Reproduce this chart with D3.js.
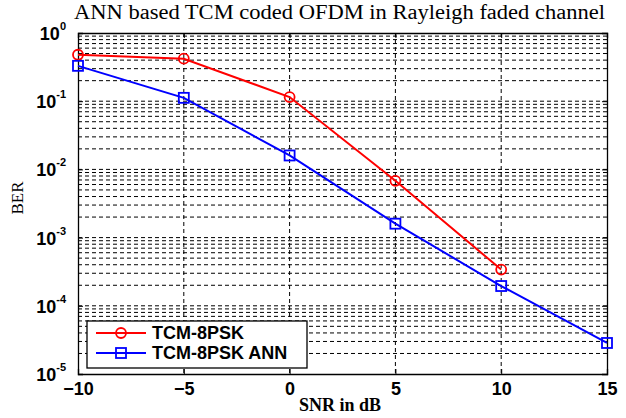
<!DOCTYPE html>
<html><head><meta charset="utf-8">
<script src="https://cdn.jsdelivr.net/npm/d3@7"></script>
<style>body{margin:0;background:#fff}svg{display:block}</style>
</head><body>
<script>
const snr = [-10, -5, 0, 5, 10, 15];
const berTCM = [0.48, 0.42, 0.115, 0.0068, 0.00034];
const berANN = [0.33, 0.112, 0.016, 0.0016, 0.000195, 0.0000285];
const xTicks = [-10, -5, 0, 5, 10, 15];
const yExps = [0, -1, -2, -3, -4, -5];
const seriesNames = ["TCM-8PSK", "TCM-8PSK ANN"];
const titleText = "ANN based TCM coded OFDM in Rayleigh faded channel";

const W = 626, H = 418;
const m = {l: 78, r: 19, t: 33, b: 44};
const svg = d3.select("body").append("svg").attr("width", W).attr("height", H);
const x = d3.scaleLinear().domain([-10, 15]).range([m.l, W - m.r]);
const y = d3.scaleLog().domain([1e-5, 1]).range([H - m.b, m.t]);

// grid
const minor = [];
for (let e = -5; e < 0; e++) for (let k = 1; k <= 9; k++) minor.push(k * Math.pow(10, e));
const g = svg.append("g");
g.selectAll(".hg").data(minor.filter(v => v > 1e-5 && v < 1)).enter().append("line")
  .attr("x1", m.l).attr("x2", W - m.r).attr("y1", d => y(d)).attr("y2", d => y(d))
  .attr("stroke", "#000").attr("stroke-width", 1).attr("stroke-dasharray", "4,3");
g.selectAll(".vg").data(xTicks.slice(1, -1)).enter().append("line")
  .attr("y1", m.t).attr("y2", H - m.b).attr("x1", d => x(d)).attr("x2", d => x(d))
  .attr("stroke", "#000").attr("stroke-width", 1).attr("stroke-dasharray", "4,3");

// axes
const xa = svg.append("g").attr("transform", `translate(0,${H - m.b})`)
  .call(d3.axisBottom(x).tickValues(xTicks).tickSize(-5).tickPadding(8).tickFormat(d3.format("d")));
const xa2 = svg.append("g").attr("transform", `translate(0,${m.t})`)
  .call(d3.axisTop(x).tickValues(xTicks).tickSize(-5).tickFormat(""));
const ya = svg.append("g").attr("transform", `translate(${m.l},0)`)
  .call(d3.axisLeft(y).tickValues(yExps.map(e => Math.pow(10, e))).tickSize(-5).tickFormat(""));
const ya2 = svg.append("g").attr("transform", `translate(${W - m.r},0)`)
  .call(d3.axisRight(y).tickValues(yExps.map(e => Math.pow(10, e))).tickSize(-5).tickFormat(""));
[xa, xa2, ya, ya2].forEach(a => {
  a.select(".domain").attr("stroke", "#000").attr("stroke-width", 1.3);
  a.selectAll(".tick line").attr("stroke", "#000");
});
xa.selectAll("text").attr("font-family", "Liberation Sans, Arial").attr("font-weight", "bold")
  .attr("font-size", 18).attr("fill", "#000");

// y tick labels as 10^e
const yl = svg.append("g");
yExps.forEach(e => {
  const t = yl.append("text").attr("x", 66).attr("y", y(Math.pow(10, e)) + 7)
    .attr("text-anchor", "end").attr("font-family", "Liberation Sans, Arial")
    .attr("font-weight", "bold").attr("font-size", 18).attr("fill", "#000");
  t.append("tspan").text("10");
  t.append("tspan").attr("dy", -10).attr("font-size", 11).text(e);
});

// lines
const line = d3.line().x(d => x(d[0])).y(d => y(d[1]));
const dTCM = berTCM.map((v, i) => [snr[i], v]);
const dANN = berANN.map((v, i) => [snr[i], v]);
svg.append("path").datum(dTCM).attr("d", line).attr("fill", "none").attr("stroke", "#ff0000").attr("stroke-width", 2);
svg.append("path").datum(dANN).attr("d", line).attr("fill", "none").attr("stroke", "#0000ff").attr("stroke-width", 2);
svg.selectAll(".c").data(dTCM).enter().append("circle")
  .attr("cx", d => x(d[0])).attr("cy", d => y(d[1])).attr("r", 5)
  .attr("fill", "none").attr("stroke", "#ff0000").attr("stroke-width", 1.8);
svg.selectAll(".s").data(dANN).enter().append("rect")
  .attr("x", d => x(d[0]) - 5).attr("y", d => y(d[1]) - 5).attr("width", 10).attr("height", 10)
  .attr("fill", "none").attr("stroke", "#0000ff").attr("stroke-width", 1.8);

// legend
const lg = svg.append("g");
lg.append("rect").attr("x", 87).attr("y", 321).attr("width", 220).attr("height", 47)
  .attr("fill", "#fff").attr("stroke", "#000").attr("stroke-width", 1.3);
const cols = ["#ff0000", "#0000ff"];
seriesNames.forEach((n, i) => {
  const yy = 333 + i * 20;
  lg.append("line").attr("x1", 96).attr("x2", 146).attr("y1", yy).attr("y2", yy)
    .attr("stroke", cols[i]).attr("stroke-width", 2);
  if (i === 0) lg.append("circle").attr("cx", 121).attr("cy", yy).attr("r", 5).attr("fill", "none")
    .attr("stroke", cols[i]).attr("stroke-width", 1.8);
  else lg.append("rect").attr("x", 116).attr("y", yy - 5).attr("width", 10).attr("height", 10)
    .attr("fill", "none").attr("stroke", cols[i]).attr("stroke-width", 1.8);
  lg.append("text").attr("x", 152).attr("y", yy + 6).text(n)
    .attr("font-family", "Liberation Sans, Arial").attr("font-weight", "bold").attr("font-size", 18).attr("fill", "#000");
});

// title and labels
svg.append("text").attr("x", 74).attr("y", 19).text(titleText)
  .attr("font-family", "Liberation Serif, Times New Roman").attr("font-size", 20)
  .attr("textLength", 531).attr("lengthAdjust", "spacingAndGlyphs").attr("fill", "#000");
svg.append("text").attr("x", 340).attr("y", 411).attr("text-anchor", "middle").text("SNR in dB")
  .attr("font-family", "Liberation Serif, Times New Roman").attr("font-weight", "bold").attr("font-size", 18).attr("fill", "#000");
svg.append("text").attr("transform", "translate(23,198) rotate(-90)").attr("text-anchor", "middle").text("BER")
  .attr("font-family", "Liberation Serif, Times New Roman").attr("font-size", 17).attr("fill", "#000");
</script>
</body></html>
